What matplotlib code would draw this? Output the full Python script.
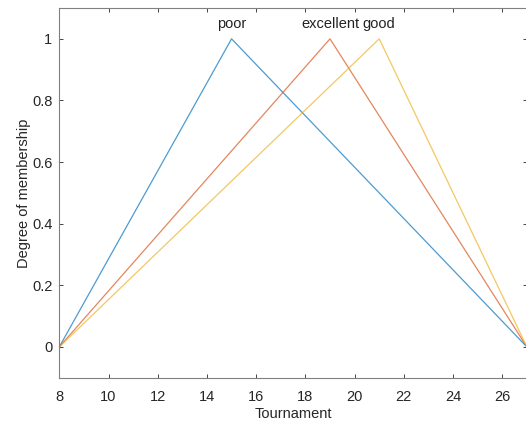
import matplotlib
matplotlib.use("Agg")
import matplotlib.pyplot as plt
import numpy as np

plt.rcParams['font.family'] = ['Liberation Sans', 'DejaVu Sans']

x_range = [8, 27]
names = ["poor", "excellent", "good"]
params = [[8, 15, 27], [8, 19, 27], [8, 21, 27]]
colors = ["#0072BD", "#D95319", "#EDB120"]
xticks = [8, 10, 12, 14, 16, 18, 20, 22, 24, 26]
yticks = [0, 0.2, 0.4, 0.6, 0.8, 1]

fig = plt.figure(figsize=(5.26, 4.23), dpi=100)
ax = fig.add_axes([0.1127, 0.107, 0.889, 0.874])

for name, (a, b, c), col in zip(names, params, colors):
    xs = [a, b, c]
    ys = [0, 1, 0]
    ax.plot(xs, ys, color=col, lw=0.9, alpha=0.7)
    ax.text(b, 1.025, name, ha='center', va='bottom', fontsize=10.5, color='#222222')

ax.set_xlim(x_range)
ax.set_ylim(-0.1, 1.1)
ax.set_xticks(xticks)
ax.set_yticks(yticks)
ax.set_yticklabels(["0", "0.2", "0.4", "0.6", "0.8", "1"])
ax.tick_params(direction='in', top=True, right=True, labelsize=10.5, colors='#262626',
               length=3, width=0.6)
ax.tick_params(axis='x', pad=9)
ax.tick_params(axis='y', pad=5)
for s in ax.spines.values():
    s.set_color('#808080')
    s.set_linewidth(0.8)
ax.set_xlabel("Tournament", fontsize=10.5, color='#262626', labelpad=2)
ax.set_ylabel("Degree of membership", fontsize=10.5, color='#262626', labelpad=1)

fig.savefig("out.png", dpi=100)
